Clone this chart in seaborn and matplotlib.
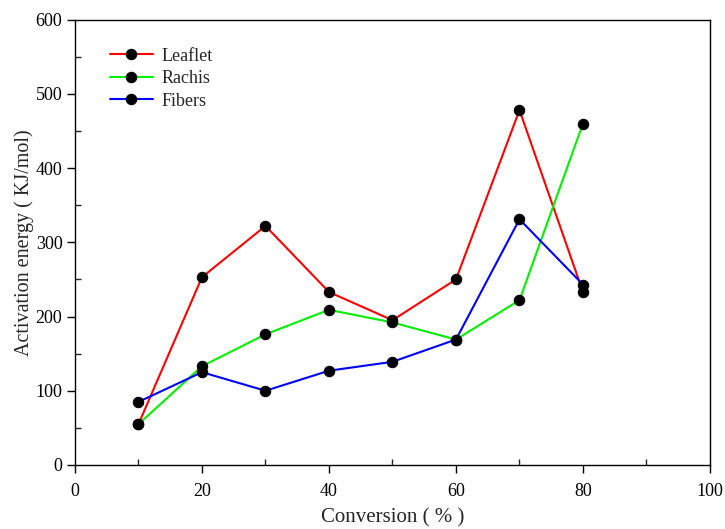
import matplotlib
matplotlib.use("Agg")
import matplotlib.pyplot as plt
import seaborn as sns
import pandas as pd
from matplotlib.ticker import MultipleLocator

conversion = [10, 20, 30, 40, 50, 60, 70, 80]
leaflet = [55, 253, 322, 233, 195, 250, 478, 233]
rachis = [55, 133, 176, 209, 192, 169, 222, 460]
fibers = [85, 125, 100, 127, 139, 169, 331, 243]

series_names = ["Leaflet", "Rachis", "Fibers"]
series_values = [leaflet, rachis, fibers]
series_colors = ["#ff0000", "#00ee00", "#0000ff"]

sns.set_style("ticks")
plt.rcParams["font.family"] = ["Liberation Serif", "DejaVu Serif"]

fig = plt.figure(figsize=(7.25, 5.29), dpi=100)
ax = fig.add_axes([0.1034, 0.121, 0.8759, 0.842])

for name, vals, col in zip(series_names, series_values, series_colors):
    df = pd.DataFrame({"x": conversion, "y": vals})
    sns.lineplot(data=df, x="x", y="y", ax=ax, color=col, label=name,
                 linewidth=1.5, marker="o", markersize=7.5,
                 markerfacecolor="black", markeredgecolor="black")

ax.set_xlim(0, 100)
ax.set_ylim(0, 600)
ax.xaxis.set_major_locator(MultipleLocator(20))
ax.xaxis.set_minor_locator(MultipleLocator(10))
ax.yaxis.set_major_locator(MultipleLocator(100))
ax.yaxis.set_minor_locator(MultipleLocator(50))
ax.tick_params(which="major", direction="out", length=6, width=1, labelsize=13, colors="black")
ax.tick_params(axis="x", which="major", pad=7)
ax.tick_params(axis="y", which="major", pad=3)
ax.tick_params(which="minor", direction="in", length=4, width=1)
for s in ax.spines.values():
    s.set_visible(True)
    s.set_color("black")
    s.set_linewidth(1.0)

ax.set_xlabel("Conversion ( % )", fontsize=15, labelpad=6)
ax.set_ylabel("Activation energy ( KJ/mol)", fontsize=14.5, labelpad=1)

leg = ax.legend(loc="upper left", bbox_to_anchor=(0.035, 0.965), frameon=False,
                fontsize=13, handlelength=2.4, labelspacing=0.3, handletextpad=0.45,
                borderpad=0.2)

fig.savefig("out.png", dpi=100)
